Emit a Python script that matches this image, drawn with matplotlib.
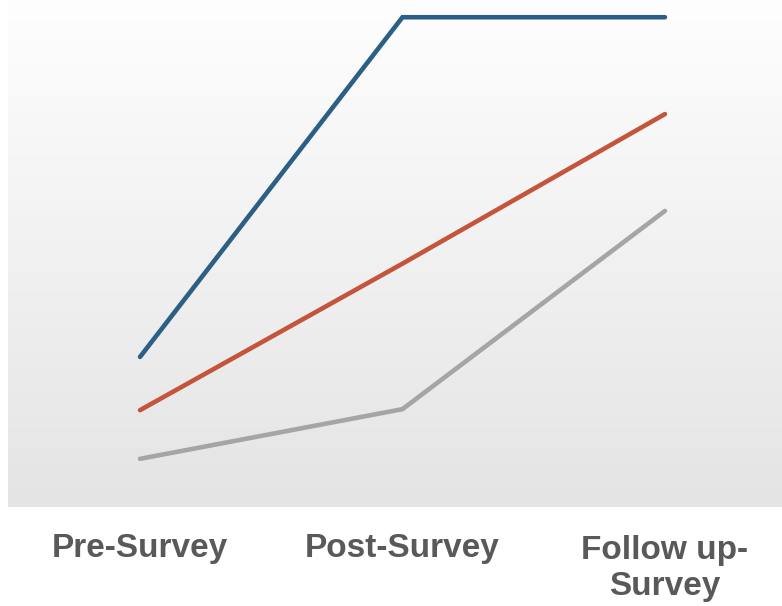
import numpy as np
import matplotlib
matplotlib.use("Agg")
import matplotlib.pyplot as plt
from matplotlib.transforms import blended_transform_factory
from matplotlib.colors import LinearSegmentedColormap

categories = ["Pre-Survey", "Post-Survey", "Follow up-\nSurvey"]
series_blue = [29.6, 96.6, 96.6]
series_orange = [19.1, 48.0, 77.5]
series_gray = [9.5, 19.3, 58.4]

W, H = 782, 606
fig = plt.figure(figsize=(W / 100, H / 100), dpi=100)
fig.patch.set_facecolor("white")

ax = fig.add_axes([8 / W, (H - 507) / H, 774 / W, 507 / H])
x = np.arange(len(categories))
xl = (-0.503, 2.446)

# gradient background: white at top, light gray at bottom
grad = np.linspace(0, 1, 256).reshape(-1, 1)
cmap = LinearSegmentedColormap.from_list("bg", ["#fefefe", "#e4e4e4"])
ax.imshow(grad, cmap=cmap, aspect="auto", origin="upper",
          extent=[xl[0], xl[1], 0, 100], zorder=0, interpolation="bicubic")
ax.set_xlim(*xl)
ax.set_ylim(0, 100)

lw = 3.3
for vals, col, z in [(series_gray, "#a5a5a5", 2),
                     (series_orange, "#c4553a", 3),
                     (series_blue, "#2b5f85", 4)]:
    ax.plot(x, vals, color=col, lw=lw, solid_capstyle="round",
            solid_joinstyle="miter", zorder=z)

for s in ax.spines.values():
    s.set_visible(False)
ax.set_xticks([])
ax.set_yticks([])

trans = blended_transform_factory(ax.transData, fig.transFigure)
for xi, lab in zip(x, categories):
    nlines = lab.count("\n")
    base_px = 557 + 38 * nlines
    ax.text(xi, 1 - base_px / H, lab, transform=trans, ha="center", va="baseline",
            fontsize=24, fontweight="bold", color="#595959",
            family=["Liberation Sans", "DejaVu Sans"], linespacing=1.22,
            multialignment="center", clip_on=False)

fig.savefig("out.png", dpi=100, facecolor="white")
